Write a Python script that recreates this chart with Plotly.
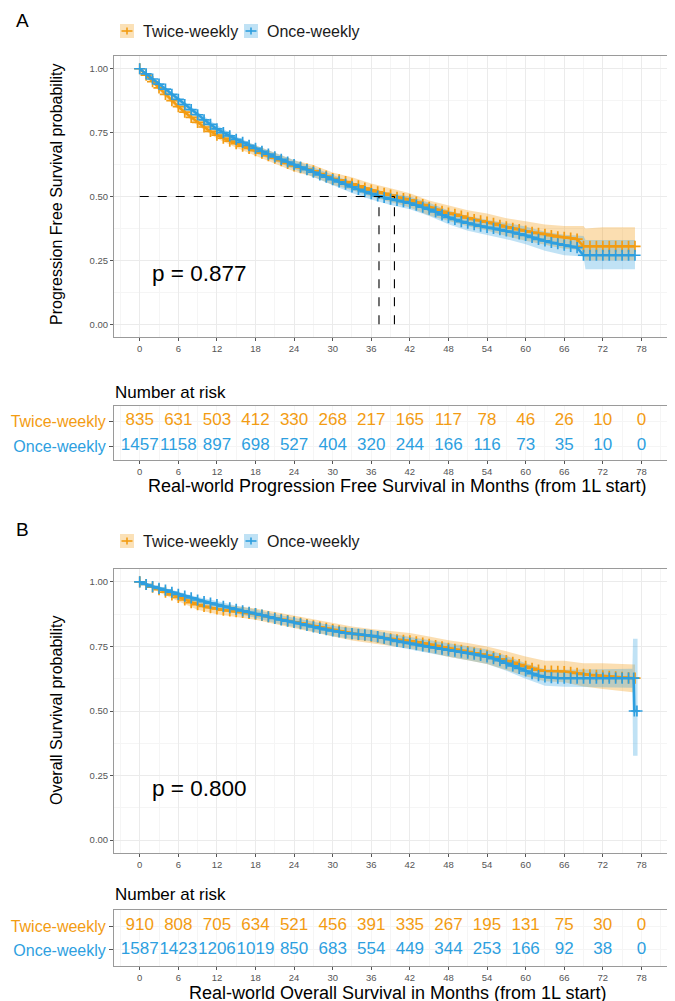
import plotly.graph_objects as go

W, H = 675, 1001
FONT = "Liberation Sans, Arial, sans-serif"
ORANGE = "#F39C12"
BLUE = "#2E9FDF"
ORANGE_FILL = "rgba(243,156,18,0.33)"
BLUE_FILL = "rgba(46,159,223,0.30)"

# ---------------- data ----------------
months = [0, 1, 2, 3, 4, 5, 6, 7, 8, 9, 10, 11, 12, 13, 14, 15, 16, 17, 18, 19,
          20, 21, 22, 23, 24, 25, 26, 27, 28, 29, 30, 31, 32, 33, 34, 35, 36, 37, 38, 39,
          40, 41, 42, 43, 44, 45, 46, 47, 48, 49, 50, 51, 52, 53, 54, 55, 56, 57, 58, 59,
          60, 61, 62, 63, 64, 65, 66, 67, 68, 69, 70, 71, 72, 73, 74, 75, 76, 77]

pfs_twice = [1.0, 0.975, 0.95, 0.925, 0.90, 0.875, 0.852, 0.83, 0.81, 0.79,
             0.772, 0.755, 0.74, 0.728, 0.717, 0.707, 0.697, 0.688, 0.679, 0.67,
             0.66, 0.65, 0.64, 0.63, 0.62, 0.613, 0.607, 0.60, 0.59, 0.58,
             0.57, 0.565, 0.558, 0.55, 0.542, 0.533, 0.525, 0.518, 0.512, 0.505,
             0.497, 0.492, 0.487, 0.478, 0.468, 0.458, 0.45, 0.442, 0.435, 0.43,
             0.423, 0.416, 0.41, 0.405, 0.40, 0.395, 0.387, 0.381, 0.375, 0.37,
             0.365, 0.36, 0.356, 0.352, 0.347, 0.342, 0.34, 0.337, 0.333, 0.305,
             0.305, 0.305, 0.305, 0.305, 0.305, 0.305, 0.305, 0.305]

pfs_once = [1.0, 0.98, 0.96, 0.94, 0.92, 0.90, 0.88, 0.86, 0.84, 0.82,
            0.80, 0.782, 0.765, 0.75, 0.737, 0.724, 0.712, 0.70, 0.688, 0.677,
            0.666, 0.655, 0.645, 0.635, 0.625, 0.615, 0.605, 0.595, 0.585, 0.576,
            0.566, 0.557, 0.548, 0.538, 0.528, 0.519, 0.511, 0.502, 0.496, 0.49,
            0.485, 0.48, 0.474, 0.466, 0.458, 0.45, 0.44, 0.428, 0.418, 0.41,
            0.402, 0.396, 0.39, 0.384, 0.379, 0.375, 0.37, 0.365, 0.36, 0.354,
            0.348, 0.34, 0.332, 0.326, 0.32, 0.315, 0.31, 0.305, 0.30, 0.27,
            0.27, 0.27, 0.27, 0.27, 0.27, 0.27, 0.27, 0.27]

os_twice = [1.0, 0.99, 0.98, 0.97, 0.96, 0.95, 0.94, 0.93, 0.92, 0.912,
            0.905, 0.90, 0.895, 0.891, 0.888, 0.885, 0.882, 0.878, 0.875, 0.87,
            0.865, 0.86, 0.855, 0.85, 0.845, 0.84, 0.835, 0.83, 0.825, 0.82,
            0.815, 0.81, 0.805, 0.80, 0.796, 0.793, 0.79, 0.786, 0.782, 0.779,
            0.776, 0.774, 0.772, 0.768, 0.763, 0.758, 0.753, 0.748, 0.743, 0.739,
            0.735, 0.73, 0.725, 0.72, 0.716, 0.71, 0.702, 0.695, 0.688, 0.68,
            0.673, 0.665, 0.658, 0.655, 0.655, 0.654, 0.653, 0.65, 0.646, 0.642,
            0.64, 0.638, 0.636, 0.634, 0.632, 0.63, 0.628, 0.627]

os_once_months = [0, 1, 2, 3, 4, 5, 6, 7, 8, 9, 10, 11, 12, 13, 14, 15, 16, 17, 18, 19,
                  20, 21, 22, 23, 24, 25, 26, 27, 28, 29, 30, 31, 32, 33, 34, 35, 36, 37, 38, 39,
                  40, 41, 42, 43, 44, 45, 46, 47, 48, 49, 50, 51, 52, 53, 54, 55, 56, 57, 58, 59,
                  60, 61, 62, 63, 64, 65, 66, 67, 68, 69, 70, 71, 72, 73, 74, 75, 76,
                  76.8, 76.9, 77.3]
os_once = [1.0, 0.99, 0.982, 0.975, 0.968, 0.96, 0.952, 0.945, 0.938, 0.93,
           0.924, 0.918, 0.912, 0.905, 0.90, 0.894, 0.888, 0.882, 0.877, 0.871,
           0.865, 0.859, 0.853, 0.848, 0.843, 0.838, 0.832, 0.826, 0.82, 0.815,
           0.81, 0.806, 0.802, 0.80, 0.797, 0.795, 0.792, 0.788, 0.782, 0.776,
           0.77, 0.766, 0.762, 0.757, 0.752, 0.748, 0.744, 0.74, 0.736, 0.732,
           0.728, 0.724, 0.72, 0.715, 0.71, 0.703, 0.695, 0.685, 0.675, 0.665,
           0.655, 0.645, 0.637, 0.632, 0.629, 0.627, 0.627, 0.627, 0.627, 0.627,
           0.627, 0.627, 0.627, 0.627, 0.627, 0.627, 0.627,
           0.627, 0.5, 0.5]

# confidence bands
pfs_ci_months = [0, 3, 6, 9, 12, 15, 18, 21, 24, 27, 30, 33, 36, 39, 42, 45, 48, 51, 54,
                 57, 60, 63, 66, 69, 69.3, 72, 77]
pfs_twice_lo = [1.0, 0.913, 0.84, 0.778, 0.727, 0.691, 0.66, 0.629, 0.598, 0.577, 0.546,
                0.525, 0.499, 0.478, 0.457, 0.426, 0.405, 0.384, 0.367, 0.345, 0.327, 0.31,
                0.295, 0.29, 0.25, 0.25, 0.25]
pfs_twice_hi = [1.0, 0.937, 0.87, 0.812, 0.763, 0.729, 0.70, 0.671, 0.642, 0.623, 0.594,
                0.575, 0.551, 0.532, 0.513, 0.484, 0.465, 0.446, 0.433, 0.415, 0.403, 0.39,
                0.385, 0.385, 0.375, 0.38, 0.38]
pfs_once_lo = [1.0, 0.932, 0.87, 0.808, 0.751, 0.705, 0.669, 0.638, 0.607, 0.576, 0.545,
               0.514, 0.488, 0.467, 0.45, 0.424, 0.391, 0.366, 0.349, 0.333, 0.313, 0.288,
               0.27, 0.265, 0.215, 0.215, 0.215]
pfs_once_hi = [1.0, 0.948, 0.89, 0.832, 0.779, 0.735, 0.701, 0.672, 0.643, 0.614, 0.585,
               0.556, 0.532, 0.513, 0.50, 0.476, 0.445, 0.424, 0.409, 0.397, 0.383, 0.362,
               0.35, 0.345, 0.33, 0.33, 0.33]

os_twice_ci_months = [0, 3, 6, 9, 12, 15, 18, 21, 24, 27, 30, 33, 36, 39, 42, 45, 48, 51,
                      54, 57, 60, 63, 66, 69, 72, 77]
os_twice_lo = [1.0, 0.96, 0.925, 0.892, 0.875, 0.864, 0.853, 0.837, 0.821, 0.805, 0.789,
               0.773, 0.762, 0.751, 0.742, 0.727, 0.71, 0.697, 0.682, 0.659, 0.635, 0.615,
               0.611, 0.595, 0.585, 0.572]
os_twice_hi = [1.0, 0.98, 0.955, 0.928, 0.915, 0.906, 0.897, 0.883, 0.869, 0.855, 0.841,
               0.827, 0.818, 0.809, 0.802, 0.789, 0.774, 0.763, 0.75, 0.731, 0.711, 0.695,
               0.695, 0.685, 0.685, 0.68]
os_once_ci_months = [0, 3, 6, 9, 12, 15, 18, 21, 24, 27, 30, 33, 36, 39, 42, 45, 48, 51,
                     54, 57, 60, 63, 66, 69, 72, 76.6, 76.7, 77.4]
os_once_lo = [1.0, 0.967, 0.942, 0.918, 0.898, 0.878, 0.861, 0.841, 0.825, 0.807, 0.79,
              0.779, 0.77, 0.753, 0.738, 0.723, 0.71, 0.697, 0.682, 0.656, 0.625, 0.598,
              0.594, 0.593, 0.592, 0.59, 0.327, 0.327]
os_once_hi = [1.0, 0.983, 0.962, 0.942, 0.926, 0.908, 0.893, 0.875, 0.861, 0.845, 0.83,
              0.821, 0.814, 0.799, 0.786, 0.773, 0.762, 0.751, 0.738, 0.714, 0.685, 0.662,
              0.66, 0.661, 0.662, 0.664, 0.78, 0.78]

pfs_median_twice = 39.6
pfs_median_once = 37.2
pfs_pvalue = "p = 0.877"
os_pvalue = "p = 0.800"

risk_months = [0, 6, 12, 18, 24, 30, 36, 42, 48, 54, 60, 66, 72, 78]
pfs_risk_twice = [835, 631, 503, 412, 330, 268, 217, 165, 117, 78, 46, 26, 10, 0]
pfs_risk_once = [1457, 1158, 897, 698, 527, 404, 320, 244, 166, 116, 73, 35, 10, 0]
os_risk_twice = [910, 808, 705, 634, 521, 456, 391, 335, 267, 195, 131, 75, 30, 0]
os_risk_once = [1587, 1423, 1206, 1019, 850, 683, 554, 449, 344, 253, 166, 92, 38, 0]

x_ticks = [0, 6, 12, 18, 24, 30, 36, 42, 48, 54, 60, 66, 72, 78]
x_minor = [-3, 3, 9, 15, 21, 27, 33, 39, 45, 51, 57, 63, 69, 75, 81]
y_ticks = [0, 0.25, 0.5, 0.75, 1.0]
y_ticktext = ["0.00", "0.25", "0.50", "0.75", "1.00"]
y_minor = [0.125, 0.375, 0.625, 0.875]
groups = ["Twice-weekly", "Once-weekly"]

# ---------------- helpers ----------------
def px(x):
    return x / W

def py(y):
    return 1 - y / H

fig = go.Figure()

def band(t, lo, hi, fill, xa, ya):
    fig.add_trace(go.Scatter(x=t, y=lo, mode="lines", line=dict(width=0, color=fill),
                             hoverinfo="skip", showlegend=False, xaxis=xa, yaxis=ya))
    fig.add_trace(go.Scatter(x=t, y=hi, mode="lines", line=dict(width=0, color=fill),
                             fill="tonexty", fillcolor=fill, hoverinfo="skip",
                             showlegend=False, xaxis=xa, yaxis=ya))

def curve(t, s, color, xa, ya):
    fig.add_trace(go.Scatter(x=t, y=s, mode="lines+markers",
                             line=dict(color=color, width=2.6),
                             marker=dict(symbol="cross-thin", size=8,
                                         line=dict(width=1.7, color=color), color=color),
                             showlegend=False, xaxis=xa, yaxis=ya))

# Panel A
band(pfs_ci_months, pfs_twice_lo, pfs_twice_hi, ORANGE_FILL, "x", "y")
band(pfs_ci_months, pfs_once_lo, pfs_once_hi, BLUE_FILL, "x", "y")
curve(months, pfs_twice, ORANGE, "x", "y")
curve(months, pfs_once, BLUE, "x", "y")
fig.add_trace(go.Scatter(
    x=[0, pfs_median_twice, None, pfs_median_twice, pfs_median_twice, None,
       pfs_median_once, pfs_median_once],
    y=[0.5, 0.5, None, 0, 0.5, None, 0, 0.5],
    mode="lines", line=dict(color="black", width=1.1, dash="dash"),
    showlegend=False, xaxis="x", yaxis="y"))

# Panel B
band(os_twice_ci_months, os_twice_lo, os_twice_hi, ORANGE_FILL, "x3", "y3")
band(os_once_ci_months, os_once_lo, os_once_hi, BLUE_FILL, "x3", "y3")
curve(months, os_twice, ORANGE, "x3", "y3")
curve(os_once_months, os_once, BLUE, "x3", "y3")

# Risk tables
def risk(vals_tw, vals_ow, xa, ya):
    fig.add_trace(go.Scatter(x=risk_months, y=[1] * len(risk_months), mode="text",
                             text=[str(v) for v in vals_tw],
                             textfont=dict(size=17, color=ORANGE, family=FONT),
                             showlegend=False, xaxis=xa, yaxis=ya))
    fig.add_trace(go.Scatter(x=risk_months, y=[0] * len(risk_months), mode="text",
                             text=[str(v) for v in vals_ow],
                             textfont=dict(size=17, color=BLUE, family=FONT),
                             showlegend=False, xaxis=xa, yaxis=ya))

risk(pfs_risk_twice, pfs_risk_once, "x2", "y2")
risk(os_risk_twice, os_risk_once, "x4", "y4")

# ---------------- axes ----------------
XDOM = [px(106), px(672)]
GRID = "#EBEBEB"
MINOR = "#F5F5F5"
BORDER = "#9A9A9A"

def xaxis(anchor, grid=GRID):
    return dict(domain=XDOM, anchor=anchor, range=[-4, 84], tickmode="array",
                tickvals=x_ticks, ticks="outside", ticklen=3, tickcolor="#555",
                tickfont=dict(size=9.5, color="#555", family=FONT),
                showgrid=True, gridcolor=grid, gridwidth=1,
                minor=dict(tickmode="array", tickvals=x_minor, showgrid=True,
                           gridcolor=MINOR, gridwidth=0.6, ticks=""),
                showline=True, mirror=True, linecolor=BORDER, linewidth=1,
                zeroline=False, fixedrange=True)

def yplot(dom, anchor):
    return dict(domain=dom, anchor=anchor, range=[-0.05, 1.05], tickmode="array",
                tickvals=y_ticks, ticktext=y_ticktext, ticks="outside", ticklen=3,
                tickcolor="#555", tickfont=dict(size=9.5, color="#555", family=FONT),
                showgrid=True, gridcolor=GRID, gridwidth=1,
                minor=dict(tickmode="array", tickvals=y_minor, showgrid=True,
                           gridcolor=MINOR, gridwidth=0.6, ticks=""),
                showline=True, mirror=True, linecolor=BORDER, linewidth=1,
                zeroline=False, fixedrange=True)

def ytable(dom, anchor, rng):
    return dict(domain=dom, anchor=anchor, range=rng, tickmode="array",
                tickvals=[1, 0],
                ticktext=['<span style="color:%s">%s</span>' % (ORANGE, groups[0]),
                          '<span style="color:%s">%s</span>' % (BLUE, groups[1])],
                ticks="outside", ticklen=4, tickcolor="#555",
                tickfont=dict(size=16, family=FONT),
                showgrid=True, gridcolor=MINOR, gridwidth=1,
                showline=True, mirror=True, linecolor=BORDER, linewidth=1,
                zeroline=False, fixedrange=True)

fig.update_layout(
    width=W, height=H,
    margin=dict(l=0, r=0, t=0, b=0),
    paper_bgcolor="white", plot_bgcolor="white",
    showlegend=False,
    font=dict(family=FONT, color="#000"),
    xaxis=xaxis("y"),
    yaxis=yplot([py(329), py(48)], "x"),
    xaxis2=xaxis("y2", MINOR),
    yaxis2=ytable([py(452), py(398)], "x2", [-0.56, 1.6]),
    xaxis3=xaxis("y3"),
    yaxis3=yplot([py(845), py(561)], "x3"),
    xaxis4=xaxis("y4", MINOR),
    yaxis4=ytable([py(958), py(902)], "x4", [-0.67, 1.67]),
)

# ---------------- annotations ----------------
def ann(text, x, y, size, color="#000", xanchor="center", yanchor="middle", angle=0):
    return dict(text=text, x=px(x), y=py(y), xref="paper", yref="paper",
                showarrow=False, xanchor=xanchor, yanchor=yanchor, textangle=angle,
                font=dict(size=size, color=color, family=FONT))

anns = [
    ann("A", 6, 12, 19, xanchor="left"),
    ann("B", 6, 521, 19, xanchor="left"),
    ann(groups[0], 133, 23, 16, "#1a1a1a", xanchor="left"),
    ann(groups[1], 257, 23, 16, "#1a1a1a", xanchor="left"),
    ann(groups[0], 133, 533, 16, "#1a1a1a", xanchor="left"),
    ann(groups[1], 257, 533, 16, "#1a1a1a", xanchor="left"),
    ann("Progression Free Survival probability", 48, 187, 16, angle=-90),
    ann("Overall Survival probability", 48, 703, 16, angle=-90),
    ann("Number at risk", 105, 384, 17, xanchor="left"),
    ann("Number at risk", 105, 886, 17, xanchor="left"),
    ann("Real-world Progression Free Survival in Months (from 1L start)", 389, 478, 18),
    ann("Real-world Overall Survival in Months (from 1L start)", 389, 985, 18),
]
anns.append(dict(text=pfs_pvalue, x=1.6, y=0.2, xref="x", yref="y", showarrow=False,
                 xanchor="left", yanchor="middle",
                 font=dict(size=22.5, color="#000", family=FONT)))
anns.append(dict(text=os_pvalue, x=1.6, y=0.2, xref="x3", yref="y3", showarrow=False,
                 xanchor="left", yanchor="middle",
                 font=dict(size=22.5, color="#000", family=FONT)))
fig.update_layout(annotations=anns)

# legend keys (manual)
shapes = []
def key(x0, yc, color, fill):
    shapes.append(dict(type="rect", xref="paper", yref="paper",
                       x0=px(x0), x1=px(x0 + 14), y0=py(yc + 7), y1=py(yc - 7),
                       fillcolor=fill, line=dict(width=0)))
    shapes.append(dict(type="line", xref="paper", yref="paper",
                       x0=px(x0 + 1.5), x1=px(x0 + 12.5), y0=py(yc), y1=py(yc),
                       line=dict(color=color, width=1.6)))
    shapes.append(dict(type="line", xref="paper", yref="paper",
                       x0=px(x0 + 7), x1=px(x0 + 7), y0=py(yc - 3.5), y1=py(yc + 3.5),
                       line=dict(color=color, width=1.6)))

key(112, 23, ORANGE, "rgba(243,156,18,0.3)")
key(236, 23, BLUE, "rgba(46,159,223,0.3)")
key(112, 533, ORANGE, "rgba(243,156,18,0.3)")
key(236, 533, BLUE, "rgba(46,159,223,0.3)")
fig.update_layout(shapes=shapes)

fig.write_html("out.html")
